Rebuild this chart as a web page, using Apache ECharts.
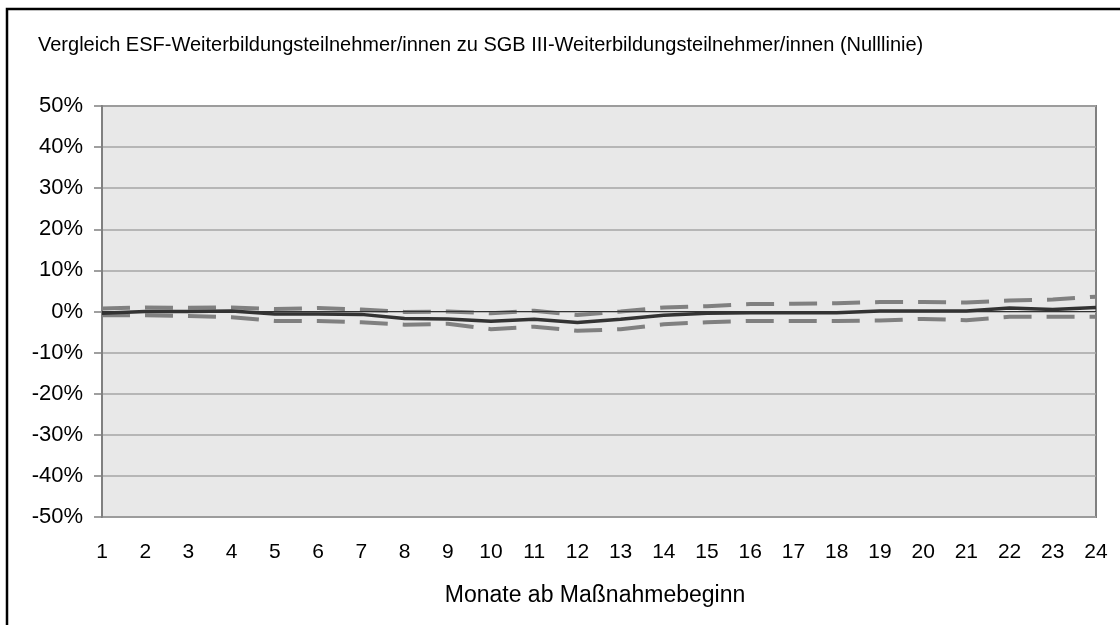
<!DOCTYPE html>
<html>
<head>
<meta charset="utf-8">
<script src="https://cdn.jsdelivr.net/npm/echarts@6/dist/echarts.min.js"></script>
<style>
  html, body { margin: 0; padding: 0; background: #ffffff; }
  #chart { width: 1120px; height: 625px; }
</style>
</head>
<body>
<div id="chart"></div>
<script>
// Months after start of measure
const months = ['1','2','3','4','5','6','7','8','9','10','11','12','13','14','15','16','17','18','19','20','21','22','23','24'];
// Effect estimate (percentage points)
const effect = [-0.4, 0, 0, 0.1, -0.6, -0.6, -0.7, -1.7, -1.8, -2.4, -1.9, -2.7, -1.9, -0.9, -0.45, -0.3, -0.3, -0.3, 0.1, 0.1, 0.1, 0.85, 0.5, 1.0];
// Upper confidence bound
const upper = [0.7, 1.0, 0.9, 1.0, 0.6, 0.85, 0.5, -0.1, 0.0, -0.45, 0.2, -0.85, 0.0, 1.0, 1.3, 1.8, 1.9, 2.0, 2.3, 2.3, 2.2, 2.7, 2.9, 3.6];
// Lower confidence bound
const lower = [-0.9, -0.9, -1.1, -1.4, -2.3, -2.3, -2.6, -3.2, -3.0, -4.3, -3.7, -4.7, -4.3, -3.1, -2.6, -2.3, -2.3, -2.3, -2.2, -1.8, -2.1, -1.3, -1.3, -1.3];

const subtitle = 'Vergleich ESF-Weiterbildungsteilnehmer/innen zu SGB III-Weiterbildungsteilnehmer/innen (Nulllinie)';
const xName = 'Monate ab Maßnahmebeginn';

const FONT = 'Liberation Sans, Arial, sans-serif';
const chart = echarts.init(document.getElementById('chart'), null, { renderer: 'canvas' });

const dashStyle = { color: '#808080', width: 4, type: [28, 15], cap: 'butt' };

chart.setOption({
  animation: false,
  backgroundColor: '#ffffff',
  textStyle: { fontFamily: FONT },
  title: {
    text: subtitle,
    left: 33,
    top: 30,
    textStyle: { fontFamily: FONT, fontSize: 20, fontWeight: 'normal', color: '#000' }
  },
  graphic: [{
    type: 'rect',
    shape: { x: 7, y: 9, width: 1130, height: 700 },
    style: { fill: 'none', stroke: '#000', lineWidth: 2.5 },
    silent: true,
    z: 100
  }],
  grid: {
    left: 102, top: 106, width: 994, height: 411,
    show: true, backgroundColor: '#e8e8e8', borderColor: '#808080', borderWidth: 2
  },
  xAxis: {
    type: 'category',
    data: months,
    boundaryGap: false,
    axisLine: { show: false },
    axisTick: { show: false },
    splitLine: { show: false },
    axisLabel: { margin: 25, fontSize: 21, color: '#000', fontFamily: FONT },
    name: xName,
    nameLocation: 'middle',
    nameGap: 67,
    nameTextStyle: { fontSize: 23, color: '#000', fontFamily: FONT, padding: [0, 8, 0, 0] }
  },
  yAxis: {
    type: 'value',
    min: -50, max: 50, interval: 10,
    axisLine: { show: true, lineStyle: { color: '#808080', width: 2 } },
    axisTick: { show: true, length: 8, lineStyle: { color: '#808080', width: 1.5 } },
    splitLine: { show: true, lineStyle: { color: '#a6a6a6', width: 1.5 } },
    axisLabel: { formatter: '{value}%', fontSize: 22, color: '#000', margin: 19, fontFamily: FONT }
  },
  series: [
    {
      name: 'Nulllinie', type: 'line', data: [], silent: true,
      markLine: {
        silent: true, symbol: 'none', label: { show: false },
        lineStyle: { color: '#333', width: 1, type: 'solid' },
        data: [{ yAxis: 0 }]
      },
      z: 1
    },
    { name: 'Obere Grenze', type: 'line', data: upper, showSymbol: false, lineStyle: dashStyle, z: 2 },
    { name: 'Untere Grenze', type: 'line', data: lower, showSymbol: false, lineStyle: dashStyle, z: 2 },
    { name: 'Effekt', type: 'line', data: effect, showSymbol: false, lineStyle: { color: '#333333', width: 3.5 }, z: 3 }
  ]
});
</script>
</body>
</html>
